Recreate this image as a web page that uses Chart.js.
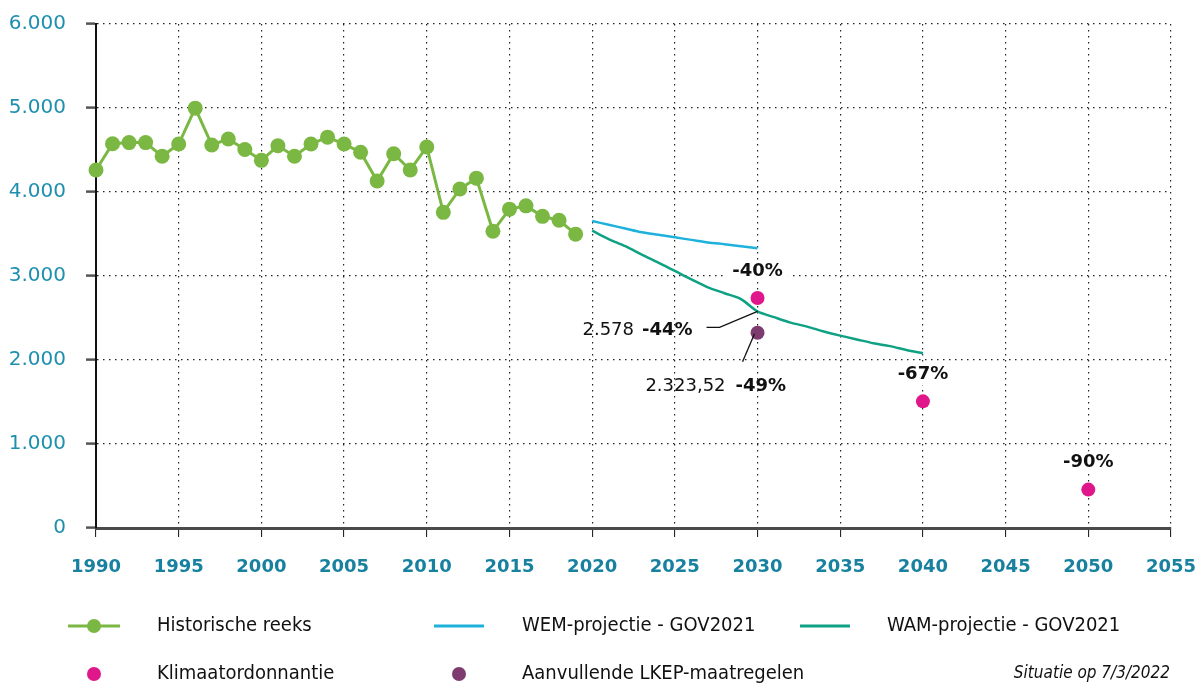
<!DOCTYPE html>
<html>
<head>
<meta charset="utf-8">
<script src="https://cdn.jsdelivr.net/npm/chart.js@4.4.0/dist/chart.umd.min.js"></script>
<style>
  body { margin: 0; background: #fff; }
  #wrap { position: relative; width: 1195px; height: 684px; overflow: hidden; }
</style>
</head>
<body>
<div id="wrap"><canvas id="chart" width="1195" height="684"></canvas></div>
<script>
// historische reeks
const histYears = [1990, 1991, 1992, 1993, 1994, 1995, 1996, 1997, 1998, 1999,
                   2000, 2001, 2002, 2003, 2004, 2005, 2006, 2007, 2008, 2009,
                   2010, 2011, 2012, 2013, 2014, 2015, 2016, 2017, 2018, 2019];
const histValues = [4262, 4575, 4588, 4588, 4425, 4571, 4998, 4560, 4631, 4506,
                    4377, 4550, 4425, 4571, 4653, 4571, 4474, 4131, 4456, 4262,
                    4536, 3758, 4036, 4165, 3532, 3796, 3835, 3710, 3663, 3498];

// WEM projectie
const wemYears = [2020, 2021, 2022, 2023, 2024, 2025, 2026, 2027, 2028, 2029, 2030];
const wemValues = [3655, 3610, 3565, 3520, 3490, 3460, 3430, 3400, 3378, 3355, 3330];

// WAM projectie
const wamYears = [2020, 2021, 2022, 2023, 2024, 2025, 2026, 2027, 2028, 2029, 2030,
                  2031, 2032, 2033, 2034, 2035, 2036, 2037, 2038, 2039, 2040];
const wamValues = [3540, 3440, 3355, 3255, 3160, 3060, 2960, 2865, 2795, 2725, 2578,
                   2510, 2445, 2397, 2340, 2290, 2245, 2200, 2165, 2120, 2080];

// klimaatordonnantie doelen
const targetYears = [2030, 2040, 2050];
const targetValues = [2738, 1508, 457];
const targetLabels = ['-40%', '-67%', '-90%'];

// aanvullende LKEP-maatregelen
const lkepYears = [2030];
const lkepValues = [2323.52];

const yTicks = [0, 1000, 2000, 3000, 4000, 5000, 6000];

const GREEN = '#7ab843';
const BLUE = '#1db1dc';
const TEAL = '#0fa184';
const PINK = '#e0168b';
const PURPLE = '#7e3b6f';
const TICKCOL = '#1f8fae';
const XTICKCOL = '#17819f';
const FONT = '"DejaVu Sans", sans-serif';
const LGFONT = '"DejaVu Sans Condensed", "DejaVu Sans", sans-serif';

const toXY = (xs, ys) => xs.map((x, i) => ({x: x, y: ys[i]}));
const nl = v => v.toLocaleString('nl-BE');

const annotPlugin = {
  id: 'annot',
  afterDatasetsDraw(chart) {
    const ctx = chart.ctx;
    const xs = chart.scales.x, ys = chart.scales.y;
    ctx.save();
    ctx.textBaseline = 'middle';
    ctx.fillStyle = '#111';

    // target labels
    ctx.font = 'bold 18px ' + FONT;
    ctx.textAlign = 'center';
    targetYears.forEach((yr, i) => {
      const px = xs.getPixelForValue(yr);
      const py = ys.getPixelForValue(targetValues[i]) - 27;
      const w = ctx.measureText(targetLabels[i]).width;
      ctx.fillStyle = '#fff';
      ctx.fillRect(px - w / 2 - 6, py - 11, w + 12, 22);
      ctx.fillStyle = '#111';
      ctx.fillText(targetLabels[i], px, py);
    });

    // WAM 2030 leader
    const x30 = xs.getPixelForValue(2030);
    const wam30 = wamValues[wamYears.indexOf(2030)];
    const yw = ys.getPixelForValue(wam30);
    ctx.strokeStyle = '#111';
    ctx.lineWidth = 1.3;
    ctx.beginPath();
    ctx.moveTo(x30, yw);
    ctx.lineTo(x30 - 38, yw + 16);
    ctx.lineTo(x30 - 51, yw + 16);
    ctx.stroke();
    ctx.textAlign = 'right';
    ctx.font = 'bold 18px ' + FONT;
    const b1 = '-44%';
    const bx1 = x30 - 65;
    ctx.fillText(b1, bx1, yw + 19);
    const bw1 = ctx.measureText(b1).width;
    ctx.font = '18px ' + FONT;
    ctx.fillText(nl(wam30), bx1 - bw1 - 8, yw + 19);

    // LKEP leader
    const yl = ys.getPixelForValue(lkepValues[0]);
    ctx.beginPath();
    ctx.moveTo(x30 - 3, yl + 1);
    ctx.lineTo(x30 - 15, yl + 29);
    ctx.stroke();
    ctx.textAlign = 'left';
    ctx.font = 'bold 18px ' + FONT;
    ctx.fillText('-49%', x30 - 22, yl + 54);
    ctx.textAlign = 'right';
    ctx.font = '18px ' + FONT;
    ctx.fillText(nl(lkepValues[0]), x30 - 32, yl + 54);
    ctx.restore();
  },
  afterDraw(chart) {
    // legend
    const ctx = chart.ctx;
    ctx.save();
    ctx.textBaseline = 'middle';
    ctx.textAlign = 'left';
    ctx.font = '20px ' + LGFONT;
    const r1 = 626, r2 = 674;
    const line = (x1, x2, y, c) => {
      ctx.strokeStyle = c; ctx.lineWidth = 3;
      ctx.beginPath(); ctx.moveTo(x1, y); ctx.lineTo(x2, y); ctx.stroke();
    };
    const dot = (x, y, c) => {
      ctx.fillStyle = c; ctx.beginPath(); ctx.arc(x, y, 7, 0, Math.PI * 2); ctx.fill();
    };
    line(68, 120, r1, GREEN); dot(94, r1, GREEN);
    line(434, 484, r1, BLUE);
    line(800, 850, r1, TEAL);
    dot(94, r2, PINK);
    dot(459, r2, PURPLE);
    ctx.fillStyle = '#111';
    ctx.fillText('Historische reeks', 157, r1);
    ctx.fillText('WEM-projectie - GOV2021', 522, r1);
    ctx.fillText('WAM-projectie - GOV2021', 887, r1);
    ctx.fillText('Klimaatordonnantie', 157, r2);
    ctx.fillText('Aanvullende LKEP-maatregelen', 522, r2);
    ctx.textAlign = 'right';
    ctx.font = 'italic 17px ' + LGFONT;
    ctx.fillText('Situatie op 7/3/2022', 1170, r2);
    ctx.restore();
  }
};

new Chart(document.getElementById('chart'), {
  type: 'line',
  data: {
    datasets: [
      {
        label: 'Historische reeks',
        data: toXY(histYears, histValues),
        borderColor: GREEN, backgroundColor: GREEN,
        borderWidth: 3, pointRadius: 7.5, pointBorderWidth: 0, tension: 0,
        clip: false
      },
      {
        label: 'WEM-projectie - GOV2021',
        data: toXY(wemYears, wemValues),
        borderColor: BLUE, borderWidth: 2.5, pointRadius: 0, tension: 0.3
      },
      {
        label: 'WAM-projectie - GOV2021',
        data: toXY(wamYears, wamValues),
        borderColor: TEAL, borderWidth: 2.5, pointRadius: 0, tension: 0.3
      },
      {
        label: 'Klimaatordonnantie',
        data: toXY(targetYears, targetValues),
        showLine: false, backgroundColor: PINK, borderColor: PINK,
        pointRadius: 7, pointBorderWidth: 0
      },
      {
        label: 'Aanvullende LKEP-maatregelen',
        data: toXY(lkepYears, lkepValues),
        showLine: false, backgroundColor: PURPLE, borderColor: PURPLE,
        pointRadius: 7, pointBorderWidth: 0
      }
    ]
  },
  options: {
    responsive: false,
    animation: false,
    layout: { padding: { top: 24, right: 24, left: 0, bottom: 0 } },
    plugins: { legend: { display: false }, tooltip: { enabled: false } },
    scales: {
      x: {
        type: 'linear', min: 1990, max: 2055,
        afterFit: s => { s.height = 156; s.paddingLeft = 0; s.paddingRight = 0; },
        ticks: {
          stepSize: 5, padding: 20, color: XTICKCOL,
          font: { family: FONT, size: 18, weight: 'bold' },
          callback: v => String(v)
        },
        grid: {
          color: '#222', lineWidth: 1.2,
          tickLength: 9, tickColor: '#111', tickWidth: 1, tickBorderDash: []
        },
        border: { color: '#4a4a4a', width: 3, dash: [1.5, 4.5] }
      },
      y: {
        min: 0, max: 6000,
        afterFit: s => { s.width = 96; s.paddingTop = 0; s.paddingBottom = 0; },
        afterBuildTicks: s => { s.ticks = yTicks.map(v => ({value: v})); },
        ticks: {
          padding: 20, color: TICKCOL,
          font: { family: FONT, size: 20 },
          callback: v => nl(v)
        },
        grid: {
          color: '#222', lineWidth: 1.2,
          tickLength: 10, tickColor: '#555', tickWidth: 2.5, tickBorderDash: []
        },
        border: { color: '#111', width: 2, dash: [1.5, 4.5] }
      }
    }
  },
  plugins: [annotPlugin]
});
</script>
</body>
</html>
